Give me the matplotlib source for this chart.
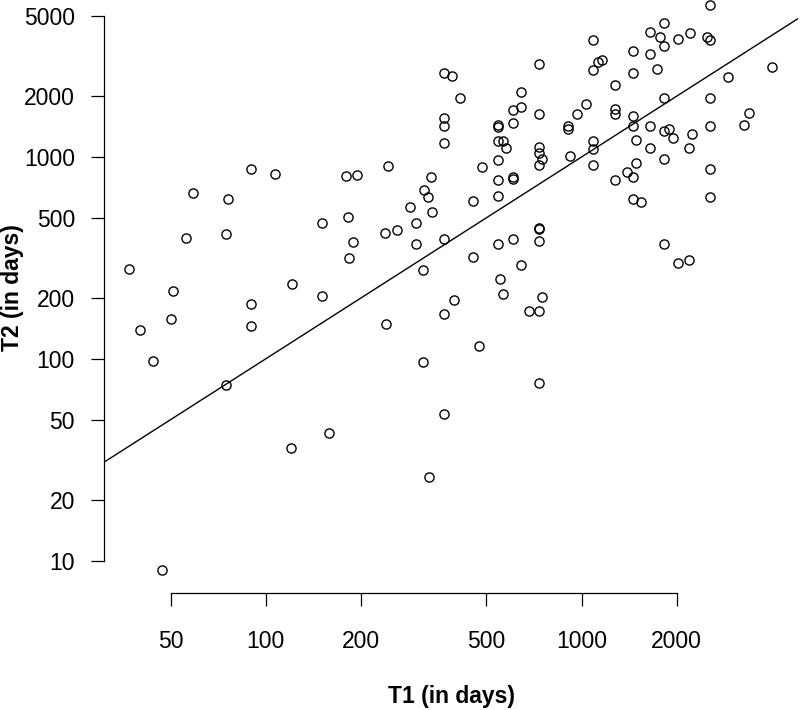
import numpy as np
import matplotlib
matplotlib.use("Agg")
import matplotlib.pyplot as plt

plt.rcParams['font.family'] = ['Liberation Sans', 'DejaVu Sans']

# T1 (days) and T2 (days)
t1 = [37, 51, 59, 56, 76, 75, 90, 107, 121, 151, 151, 180, 194, 182, 189, 183,
      243, 238, 260, 90, 40, 50, 90, 240, 44, 75, 120, 159, 47,
      2557, 1828, 1643, 1771, 2016, 2199, 2500, 2557, 1089, 1458, 1643, 1828,
      731, 1127, 1160, 1089, 1458, 1729, 366, 390, 412, 1279, 2908, 4018,
      2557, 1828, 643, 607, 643, 608, 731, 967, 1030, 1279, 1279, 1458, 1458,
      1643, 1828, 1895, 1952, 2241, 2557, 3382, 3275, 366, 366, 366, 545, 545,
      545, 564, 576, 731, 731, 747, 731, 906, 906, 917, 1089, 1089, 1089, 1490,
      1643, 2193, 1828, 1490, 1395, 1458, 1279, 2557, 2557, 1458, 1538, 485,
      545, 545, 545, 605, 608, 333, 318, 326, 286, 336, 298, 298, 367, 453, 545,
      608, 731, 731, 731, 453, 642, 314, 551, 564, 395, 747, 1828, 2016, 2193,
      366, 683, 731, 473, 314, 731, 366, 329]
t2 = [280, 217, 661, 399, 620, 413, 867, 825, 236, 473, 204, 801, 813, 505, 379, 315,
      900, 420, 433, 186, 139, 157, 146, 149, 98, 74, 36, 43, 9,
      5681, 4627, 4175, 3914, 3839, 4114, 3914, 3783, 3783, 3360, 3247, 3544,
      2886, 2943, 3021, 2694, 2612, 2735, 2612, 2515, 1957, 2278, 2478, 2789,
      1957, 1957, 2089, 1707, 1766, 1467, 1625, 1625, 1821, 1732, 1625, 1594, 1422,
      1422, 1348, 1379, 1239, 1302, 1422, 1655, 1438, 1563, 1422, 1175, 1438, 1410,
      1202, 1202, 1102, 1122, 1041, 979, 914, 1422, 1369, 1013, 1202, 1097, 914, 1216,
      1102, 1102, 979, 932, 841, 797, 770, 867, 630, 618, 597, 897,
      961, 770, 641, 794, 782, 797, 684, 630, 568, 531, 473, 372, 391, 606, 372,
      391, 445, 440, 385, 320, 293, 275, 249, 209, 196, 202, 372, 298, 310,
      166, 173, 173, 116, 96, 76, 53, 26]

x_ticks = [50, 100, 200, 500, 1000, 2000]
y_ticks = [10, 20, 50, 100, 200, 500, 1000, 2000, 5000]

W, H = 800, 710
fig = plt.figure(figsize=(W / 100, H / 100), dpi=100)

# R-style limits: data range extended by 4% (in log space)
lx = np.log10(t1); ly = np.log10(t2)
ex = 0.04 * (lx.max() - lx.min()); ey = 0.04 * (ly.max() - ly.min())
xlim = (10 ** (lx.min() - ex), 10 ** (lx.max() + ex))
ylim = (10 ** (ly.min() - ey), 10 ** (ly.max() + ey))

left_px, right_px, bottom_px, top_px = 103.7, 798.0, 592.5, -17.9
ax = fig.add_axes([left_px / W, 1 - bottom_px / H,
                   (right_px - left_px) / W, (bottom_px - top_px) / H])
ax.set_xscale('log'); ax.set_yscale('log')
ax.set_xlim(xlim); ax.set_ylim(ylim)
ax.set_facecolor('none')

ax.plot(t1, t2, 'o', mfc='none', mec='black', ms=6.6, mew=1.0, zorder=3,
        clip_on=False)
xs = np.geomspace(xlim[0], xlim[1], 200)
ax.plot(xs, xs, color='black', lw=1.0, zorder=2)

for s in ['top', 'right']:
    ax.spines[s].set_visible(False)
ax.spines['left'].set_bounds(min(y_ticks), max(y_ticks))
ax.spines['bottom'].set_bounds(min(x_ticks), max(x_ticks))
for s in ['left', 'bottom']:
    ax.spines[s].set_linewidth(0.9)

ax.set_xticks(x_ticks)
ax.set_xticklabels([str(v) for v in x_ticks])
ax.set_yticks(y_ticks)
ax.set_yticklabels([str(v) for v in y_ticks])
ax.minorticks_off()
ax.tick_params(axis='both', which='major', direction='out', length=9.2,
               width=0.9, labelsize=16.5, color='black')
ax.tick_params(axis='y', pad=11.5)
ax.tick_params(axis='x', pad=17.5)

fig.text(452 / W, 1 - 697 / H, 'T1 (in days)', ha='center', va='center',
         fontsize=16.5, fontweight='bold')
fig.text(13 / W, 1 - 288 / H, 'T2 (in days)', ha='center', va='center',
         rotation=90, fontsize=16.5, fontweight='bold')

fig.savefig('out.png', dpi=100)
